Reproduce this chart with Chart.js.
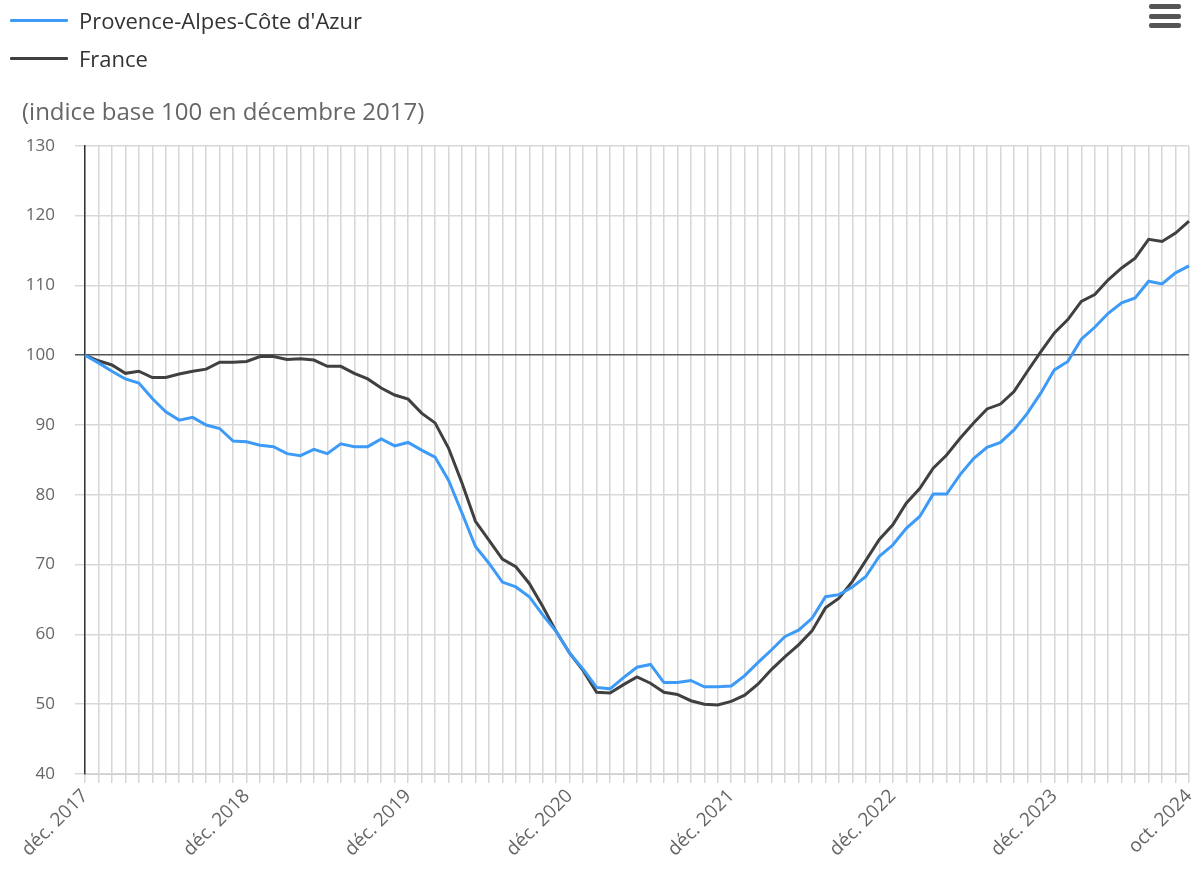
<!DOCTYPE html>
<html>
<head>
<meta charset="utf-8">
<script src="https://cdn.jsdelivr.net/npm/chart.js@4"></script>
<style>
  body { margin: 0; background: #fff; font-family: 'Open Sans', sans-serif; }
  #wrap { position: relative; width: 1193px; height: 869px; }
  #chart { position: absolute; left: 0; top: 0; }
  .leg { position: absolute; left: 10px; height: 26px; display: flex; align-items: center; font-size: 22px; color: #333; }
  .leg span.sw { display: inline-block; width: 58px; height: 3px; margin-right: 11px; border-radius: 1px; }
  .burger { position: absolute; left: 1149px; width: 32px; height: 5px; background: #555; border-radius: 2px; }
</style>
</head>
<body>
<div id="wrap">
  <canvas id="chart" width="1193" height="869"></canvas>
  <div class="leg" style="top:7px"><span class="sw" style="background:#3d9bf7"></span>Provence-Alpes-Côte d'Azur</div>
  <div class="leg" style="top:45px"><span class="sw" style="background:#404040"></span>France</div>
  <div class="burger" style="top:4px"></div>
  <div class="burger" style="top:14px"></div>
  <div class="burger" style="top:23px"></div>
</div>
<script>
const months = ['janv.', 'févr.', 'mars', 'avr.', 'mai', 'juin', 'juil.', 'août', 'sept.', 'oct.', 'nov.', 'déc.'];

// déc. 2017 -> oct. 2024, monthly
const labels = ['déc. 2017'];
for (let y = 2018; y <= 2024; y++) {
  for (let m = 0; m < 12; m++) {
    if (y === 2024 && m > 9) break;
    labels.push(months[m] + ' ' + y);
  }
}

const paca = [
  100, 98.9, 97.7, 96.6, 96.0, 93.8, 91.9, 90.7, 91.1, 90.0, 89.5, 87.7,
  87.6, 87.1, 86.9, 85.9, 85.6, 86.5, 85.9, 87.3, 86.9, 86.9, 88.0, 87.0,
  87.5, 86.4, 85.4, 82.1, 77.4, 72.6, 70.2, 67.5, 66.8, 65.4, 62.8, 60.4,
  57.3, 55.0, 52.4, 52.2, 53.8, 55.3, 55.7, 53.1, 53.1, 53.4, 52.5, 52.5,
  52.6, 54.1, 56.0, 57.8, 59.7, 60.6, 62.3, 65.4, 65.7, 66.8, 68.3, 71.2,
  72.8, 75.2, 76.9, 80.1, 80.1, 82.9, 85.2, 86.8, 87.5, 89.3, 91.7, 94.6,
  97.9, 99.1, 102.3, 104.0, 106.0, 107.5, 108.2, 110.6, 110.2, 111.8, 112.8
];

const france = [
  100, 99.2, 98.6, 97.4, 97.7, 96.8, 96.8, 97.3, 97.7, 98.0, 99.0, 99.0,
  99.1, 99.8, 99.8, 99.4, 99.5, 99.3, 98.4, 98.4, 97.4, 96.6, 95.3, 94.3,
  93.7, 91.7, 90.3, 86.7, 81.7, 76.2, 73.5, 70.8, 69.7, 67.3, 64.0, 60.4,
  57.3, 54.8, 51.7, 51.6, 52.8, 53.9, 53.0, 51.7, 51.4, 50.5, 50.0, 49.9,
  50.4, 51.3, 52.9, 55.0, 56.8, 58.5, 60.5, 63.8, 65.2, 67.6, 70.6, 73.6,
  75.7, 78.8, 80.9, 83.8, 85.7, 88.1, 90.3, 92.3, 93.0, 94.8, 97.7, 100.5,
  103.2, 105.1, 107.7, 108.7, 110.8, 112.5, 113.9, 116.6, 116.3, 117.5, 119.2
];

const font = 'Open Sans';

new Chart(document.getElementById('chart'), {
  type: 'line',
  data: {
    labels: labels,
    datasets: [
      { label: "Provence-Alpes-Côte d'Azur", data: paca, borderColor: '#3d9bf7', borderWidth: 3, pointRadius: 0, tension: 0 },
      { label: 'France', data: france, borderColor: '#404040', borderWidth: 3, pointRadius: 0, tension: 0 }
    ]
  },
  options: {
    responsive: false,
    animation: false,
    layout: { padding: { left: 22, right: 4, top: 99, bottom: 0 } },
    plugins: {
      legend: { display: false },
      tooltip: { enabled: false },
      title: {
        display: true,
        text: '(indice base 100 en décembre 2017)',
        align: 'start',
        color: '#666',
        font: { family: font, size: 24, weight: 'normal' },
        padding: { top: 0, bottom: 18 }
      }
    },
    scales: {
      x: {
        grid: { color: '#d6d6d6', lineWidth: 1.5, tickLength: 9 },
        border: { color: '#cfcfcf' },
        ticks: {
          autoSkip: false,
          maxRotation: 45,
          minRotation: 45,
          color: '#666',
          font: { family: font, size: 19 },
          padding: 2,
          callback: function (v, i) {
            return (i % 12 === 0 || i === labels.length - 1) ? labels[i] : '';
          }
        },
        afterFit: s => { s.height = 95; s.paddingRight = 0; }
      },
      y: {
        min: 40,
        max: 130,
        ticks: { stepSize: 10, color: '#666', font: { family: font, size: 17 }, padding: 20 },
        grid: {
          tickLength: 10,
          color: c => c.tick && c.tick.value === 100 ? '#555' : '#d8d8d8',
          lineWidth: 1.5
        },
        border: { color: '#333', width: 1.5 },
        afterFit: s => { s.width = 63; }
      }
    }
  }
});
</script>
</body>
</html>
